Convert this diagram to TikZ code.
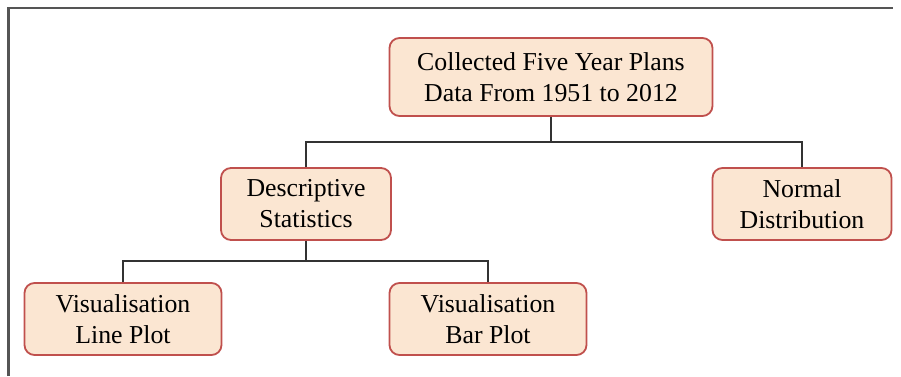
\documentclass[tikz,border=0pt]{standalone}
\usepackage{fontspec}
\setmainfont{Liberation Serif}
\definecolor{boxfill}{HTML}{FBE6D2}
\definecolor{boxdraw}{HTML}{C0504D}
\definecolor{linecol}{HTML}{333333}
\definecolor{framecol}{HTML}{555555}
\tikzset{
  box/.style={draw=boxdraw, fill=boxfill, line width=1.8pt, rounded corners=10pt,
    align=center, inner sep=0pt, font=\fontsize{25.8}{31}\selectfont, text=black},
  conn/.style={draw=linecol, line width=1.6pt},
}
\begin{document}
\begin{tikzpicture}[x=1pt,y=-1pt]
\useasboundingbox (0,0) rectangle (901,376);
\draw[framecol, line width=2.2pt] (8.5,376) -- (8.5,8) -- (893,8);
\node[box, minimum width=323, minimum height=78] (top) at (551,77) {Collected Five Year Plans\\Data From 1951 to 2012};
\node[box, minimum width=170, minimum height=72] (desc) at (306,204) {Descriptive\\Statistics};
\node[box, minimum width=179, minimum height=72] (norm) at (802,204) {Normal\\Distribution};
\node[box, minimum width=197, minimum height=72] (line) at (123,319) {Visualisation\\Line Plot};
\node[box, minimum width=197, minimum height=72] (bar) at (488,319) {Visualisation\\Bar Plot};
\coordinate (j1) at (551,142);
\coordinate (j2) at (306,261);
\draw[conn] (top.south) -- (j1);
\draw[conn] (desc.north) |- (j1) -| (norm.north);
\draw[conn] (desc.south) -- (j2);
\draw[conn] (line.north) |- (j2) -| (bar.north);
\end{tikzpicture}
\end{document}
